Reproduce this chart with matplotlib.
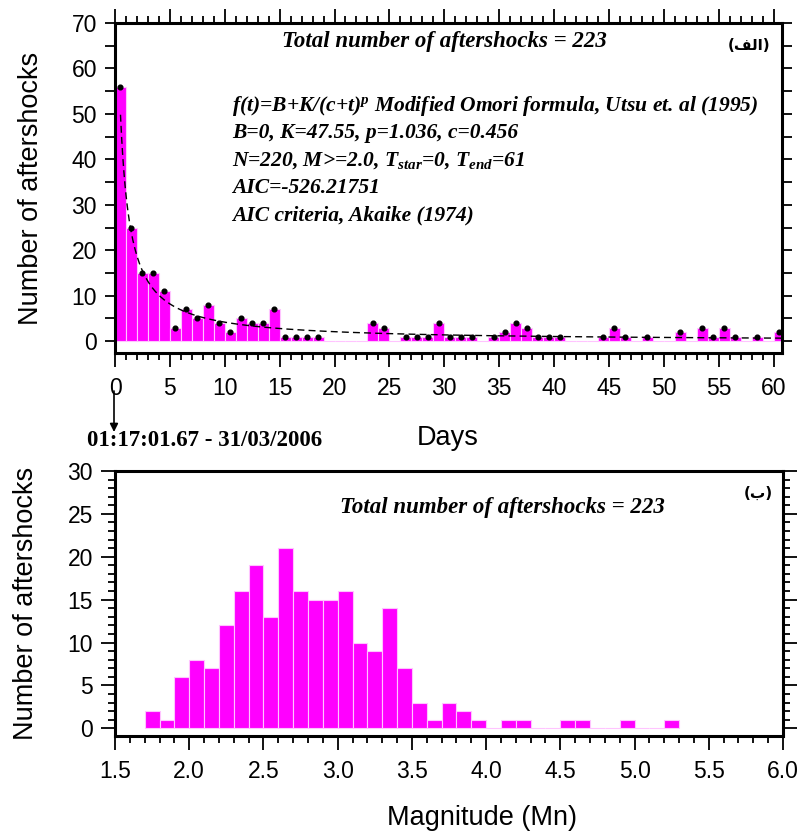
import numpy as np
import matplotlib
matplotlib.use('Agg')
import matplotlib.pyplot as plt
from matplotlib.ticker import MultipleLocator

# aftershocks per day (day 0 .. 60)
day_counts = [56, 25, 15, 15, 11, 3, 7, 5, 8, 4,
              2, 5, 4, 4, 7, 1, 1, 1, 1, 0,
              0, 0, 0, 4, 3, 0, 1, 1, 1, 4,
              1, 1, 1, 0, 1, 2, 4, 3, 1, 1,
              1, 0, 0, 0, 1, 3, 1, 0, 1, 0,
              0, 2, 0, 3, 1, 3, 1, 0, 1, 0, 2]

# magnitude histogram (bin left edges, width 0.1)
mag_bins = [1.7, 1.8, 1.9, 2.0, 2.1, 2.2, 2.3, 2.4, 2.5, 2.6, 2.7, 2.8,
            2.9, 3.0, 3.1, 3.2, 3.3, 3.4, 3.5, 3.6, 3.7, 3.8, 3.9, 4.0,
            4.1, 4.2, 4.3, 4.4, 4.5, 4.6, 4.7, 4.8, 4.9, 5.0, 5.1, 5.2]
mag_counts = [2, 1, 6, 8, 7, 12, 16, 19, 13, 21, 16, 15,
              15, 16, 10, 9, 14, 7, 3, 1, 3, 2, 1, 0,
              1, 1, 0, 0, 1, 1, 0, 0, 1, 0, 0, 1]

# modified Omori fit
K, p, c = 47.55, 1.036, 0.456

plt.rcParams['font.family'] = ['Liberation Sans', 'DejaVu Sans']
plt.rcParams['mathtext.fontset'] = 'custom'
plt.rcParams['mathtext.rm'] = 'Liberation Serif:bold:italic'
plt.rcParams['mathtext.it'] = 'Liberation Serif:bold:italic'
plt.rcParams['mathtext.bf'] = 'Liberation Serif:bold:italic'

W, H = 799, 833
fig = plt.figure(figsize=(W / 100, H / 100), dpi=100)

def fx(x):
    return x / W

def fy(y):
    return 1 - y / H

serif = dict(family='Liberation Serif', weight='bold', style='italic')
magenta = '#ff00ff'
tick_fs = 16.5
lab_fs = 19.5

# ---- top panel: aftershocks vs days
ax1 = fig.add_axes([fx(115), fy(353), fx(782) - fx(115), fy(23) - fy(353)])
days = np.arange(len(day_counts))
cnt = np.array(day_counts)
ax1.bar(days, cnt, width=1, align='edge', color=magenta,
        edgecolor='#ffc4ff', linewidth=0.8)
nz = cnt > 0
ax1.plot(days[nz] + 0.5, cnt[nz], 'o', color='k', ms=3.4)
t = np.linspace(0.5, 61, 600)
ax1.plot(t, K / (c + t) ** p, color='k', lw=1, dashes=(5, 3))
ax1.set_xlim(0, 60.77)
ax1.set_ylim(-2.6, 70)
ax1.xaxis.set_major_locator(MultipleLocator(5))
ax1.xaxis.set_minor_locator(MultipleLocator(1))
ax1.yaxis.set_major_locator(MultipleLocator(10))
ax1.yaxis.set_minor_locator(MultipleLocator(5))
ax1.tick_params(which='both', direction='out', top=True, right=True,
                labelsize=tick_fs, width=1.3, colors='k')
ax1.tick_params(axis='x', which='major', length=10, pad=7)
ax1.tick_params(axis='x', which='minor', length=5)
ax1.tick_params(axis='y', which='both', length=7, pad=6)
for s in ax1.spines.values():
    s.set_linewidth(2.2)
ax1.set_ylabel('Number of aftershocks', fontsize=lab_fs, labelpad=20)

fig.text(fx(444), fy(42), 'Total number of aftershocks = 223', ha='center',
         va='center', fontsize=16.5, **serif)
fig.text(fx(770), fy(46), '(\ufed2\ufedf\ufe8d)', ha='right', va='center',
         fontsize=11, family='DejaVu Sans', weight='bold')
lines = ['f(t)=B+K/(c+t)$^{p}$ Modified Omori formula, Utsu et. al (1995)',
         'B=0, K=47.55, p=1.036, c=0.456',
         'N=220, M>=2.0, T$_{star}$=0, T$_{end}$=61',
         'AIC=-526.21751',
         'AIC criteria, Akaike (1974)']
for i, ln in enumerate(lines):
    fig.text(fx(232), fy(106 + 27.3 * i), ln, ha='left', va='center',
             fontsize=15.5, **serif)

fig.text(fx(448), fy(438), 'Days', ha='center', va='center', fontsize=lab_fs)
fig.text(fx(87), fy(441), '01:17:01.67 - 31/03/2006', ha='left', va='center',
         fontsize=16.5, family='Liberation Serif', weight='bold')
ax1.annotate('', xy=(fx(114), fy(432)), xytext=(fx(114), fy(391)),
             xycoords='figure fraction', textcoords='figure fraction',
             arrowprops=dict(arrowstyle='-|>', color='k', lw=1.2,
                             mutation_scale=12, shrinkA=0, shrinkB=0))

# ---- bottom panel: magnitude histogram
ax2 = fig.add_axes([fx(115), fy(736), fx(783) - fx(115), fy(471) - fy(736)])
ax2.bar(mag_bins, mag_counts, width=0.1, align='edge', color=magenta,
        edgecolor='#ffc4ff', linewidth=0.8)
ax2.set_xlim(1.5, 6.0)
ax2.set_ylim(-0.9, 30)
ax2.xaxis.set_major_locator(MultipleLocator(0.5))
ax2.xaxis.set_minor_locator(MultipleLocator(0.1))
ax2.yaxis.set_major_locator(MultipleLocator(5))
ax2.yaxis.set_minor_locator(MultipleLocator(1))
ax2.xaxis.set_major_formatter(matplotlib.ticker.FormatStrFormatter('%.1f'))
ax2.tick_params(which='both', direction='out', right=True,
                labelsize=tick_fs, width=1.3, colors='k')
ax2.tick_params(which='major', length=10, pad=7)
ax2.tick_params(which='minor', length=5)
ax2.tick_params(axis='y', which='major', pad=6)
for s in ax2.spines.values():
    s.set_linewidth(2.2)
ax2.set_ylabel('Number of aftershocks', fontsize=lab_fs, labelpad=20)
fig.text(fx(482), fy(818), 'Magnitude (Mn)', ha='center', va='center',
         fontsize=lab_fs)

fig.text(fx(502), fy(507), 'Total number of aftershocks = 223', ha='center',
         va='center', fontsize=16.5, **serif)
fig.text(fx(773), fy(493), '(\ufe8f)', ha='right', va='center',
         fontsize=11, family='DejaVu Sans', weight='bold')

fig.savefig('out.png', dpi=100)
